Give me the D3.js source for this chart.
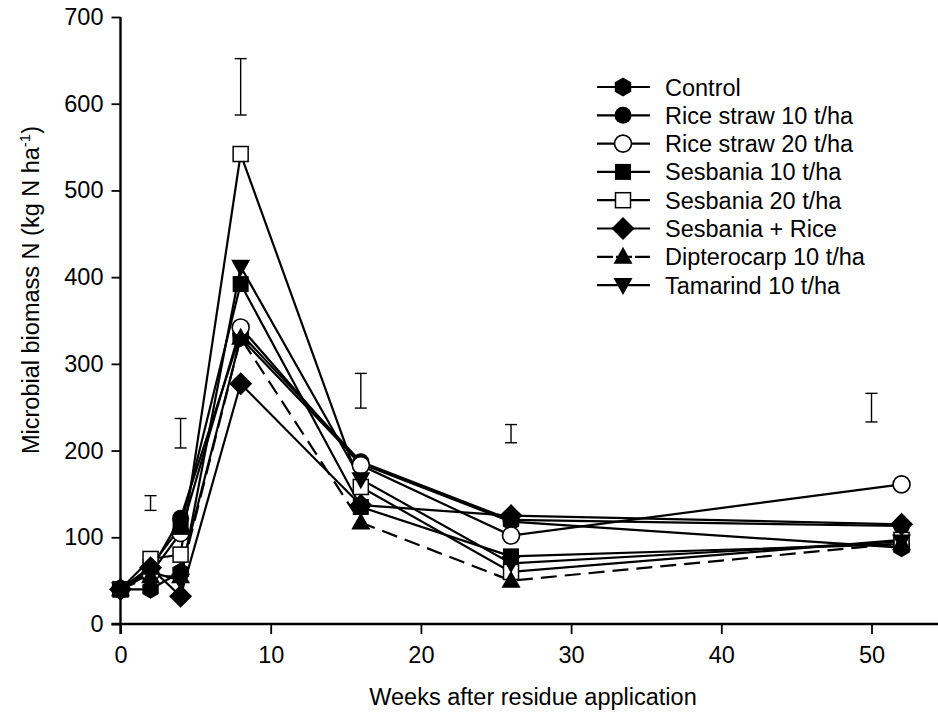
<!DOCTYPE html>
<html><head><meta charset="utf-8">
<script src="https://cdn.jsdelivr.net/npm/d3@7"></script>
<style>body{margin:0;background:#fff}svg{display:block;font-family:"Liberation Sans",Arial,sans-serif}</style>
</head><body><svg id="c" width="938" height="712"></svg>
<script>
const weeks = [0, 2, 4, 8, 16, 26, 52];
const seriesNames = ["Control","Rice straw 10 t/ha","Rice straw 20 t/ha","Sesbania 10 t/ha","Sesbania 20 t/ha","Sesbania + Rice","Dipterocarp 10 t/ha","Tamarind 10 t/ha"];
const control   = [40, 40, 60, 330, 185, 118, 88];
const riceStraw10 = [40, 62, 122, 335, 187, 120, 113];
const riceStraw20 = [40, 58, 105, 342, 183, 102, 161];
const sesbania10 = [40, 66, 112, 392, 135, 78, 92];
const sesbania20 = [40, 75, 80, 542, 158, 60, 97];
const sesbaniaRice = [40, 65, 32, 277, 137, 125, 115];
const dipterocarp = [40, 55, 55, 330, 117, 50, 93];
const tamarind = [40, 60, 50, 412, 167, 70, 95];
const seriesValues = [control, riceStraw10, riceStraw20, sesbania10, sesbania20, sesbaniaRice, dipterocarp, tamarind];
const markerTypes = ["hex","circle","openCircle","square","openSquare","diamond","triangle","triangleDown"];
const dashed = [false,false,false,false,false,false,true,false];
// LSD bars
const errX = [2, 4, 8, 16, 26, 50];
const errLo = [131, 203, 587, 249, 209, 233];
const errHi = [148, 237, 652, 289, 230, 266];
const xTicks = [0,10,20,30,40,50];
const yTicks = [0,100,200,300,400,500,600,700];

const svg = d3.select("#c");
const x = d3.scaleLinear().domain([0,55]).range([120.5, 946.6]);
const y = d3.scaleLinear().domain([0,700]).range([624, 17]);
const FS = 23.5;

// axes
const xAxis = d3.axisBottom(x).tickValues(xTicks).tickSize(10).tickPadding(12).tickFormat(d3.format("d"));
const gx = svg.append("g").attr("transform",`translate(0,${y(0)})`).call(xAxis);
gx.select(".domain").attr("d",`M${x(0)-9},0H946`).attr("stroke","#000").attr("stroke-width",2.4);
gx.selectAll(".tick line").attr("stroke-width",1.8);
gx.selectAll("text").attr("font-size",FS).attr("fill","#000");

const yAxis = d3.axisLeft(y).tickValues(yTicks).tickSize(9).tickPadding(8);
const gy = svg.append("g").attr("transform",`translate(${x(0)},0)`).call(yAxis);
gy.select(".domain").attr("d",`M0,${y(700)}V${y(0)+10}`).attr("stroke","#000").attr("stroke-width",2.4);
gy.selectAll(".tick line").attr("stroke-width",1.8);
gy.selectAll("text").attr("font-size",FS).attr("fill","#000");

svg.append("text").attr("x", 533).attr("y", 705).attr("text-anchor","middle")
  .attr("font-size",FS).text("Weeks after residue application");
const yt = svg.append("text").attr("transform",`translate(39,290) rotate(-90)`).attr("text-anchor","middle").attr("font-size",FS);
yt.append("tspan").text("Microbial biomass N (kg N ha");
yt.append("tspan").attr("font-size",15).attr("dy",-9).text("-1");
yt.append("tspan").attr("dy",9).text(")");

// error bars
errX.forEach((wx,i)=>{
  const g = svg.append("g").attr("stroke","#000").attr("stroke-width",1.4);
  g.append("line").attr("x1",x(wx)).attr("x2",x(wx)).attr("y1",y(errLo[i])).attr("y2",y(errHi[i]));
  g.append("line").attr("x1",x(wx)-6).attr("x2",x(wx)+6).attr("y1",y(errLo[i])).attr("y2",y(errLo[i]));
  g.append("line").attr("x1",x(wx)-6).attr("x2",x(wx)+6).attr("y1",y(errHi[i])).attr("y2",y(errHi[i]));
});

function drawMarker(g, type, cx, cy){
  const r = 8.5;
  switch(type){
    case "hex": {
      const pts = d3.range(6).map(k=>{const a=Math.PI/2 + k*Math.PI/3; return [cx+9.5*Math.cos(a), cy+9.5*Math.sin(a)];});
      g.append("polygon").attr("points", pts.map(p=>p.join(",")).join(" ")).attr("fill","#000"); break; }
    case "circle": g.append("circle").attr("cx",cx).attr("cy",cy).attr("r",r).attr("fill","#000"); break;
    case "openCircle": g.append("circle").attr("cx",cx).attr("cy",cy).attr("r",r).attr("fill","#fff").attr("stroke","#000").attr("stroke-width",1.6); break;
    case "square": g.append("rect").attr("x",cx-8).attr("y",cy-8).attr("width",16).attr("height",16).attr("fill","#000"); break;
    case "openSquare": g.append("rect").attr("x",cx-7.5).attr("y",cy-7.5).attr("width",15).attr("height",15).attr("fill","#fff").attr("stroke","#000").attr("stroke-width",1.5); break;
    case "diamond": g.append("polygon").attr("points",`${cx},${cy-11.5} ${cx+11.5},${cy} ${cx},${cy+11.5} ${cx-11.5},${cy}`).attr("fill","#000"); break;
    case "triangle": g.append("polygon").attr("points",`${cx},${cy-10} ${cx+9.5},${cy+7} ${cx-9.5},${cy+7}`).attr("fill","#000"); break;
    case "triangleDown": g.append("polygon").attr("points",`${cx},${cy+10} ${cx+9.5},${cy-7} ${cx-9.5},${cy-7}`).attr("fill","#000"); break;
  }
}

const line = d3.line().x((d,i)=>x(weeks[i])).y(d=>y(d));
seriesValues.forEach((vals,s)=>{
  svg.append("path").attr("d",line(vals)).attr("fill","none").attr("stroke","#000")
    .attr("stroke-width",2.2).attr("stroke-dasharray", dashed[s] ? "16,8" : null);
});
seriesValues.forEach((vals,s)=>{
  const g = svg.append("g");
  vals.forEach((v,i)=>drawMarker(g, markerTypes[s], x(weeks[i]), y(v)));
});

// legend
const lg = svg.append("g");
seriesNames.forEach((name,i)=>{
  const ly = 87 + i*28.3;
  lg.append("line").attr("x1",597).attr("x2",650).attr("y1",ly).attr("y2",ly).attr("stroke","#000").attr("stroke-width",2.2)
    .attr("stroke-dasharray", dashed[i] ? "16,3" : null);
  drawMarker(lg, markerTypes[i], 623, ly);
  lg.append("text").attr("x",665).attr("y",ly+8.5).attr("font-size",FS).text(name);
});
</script></body></html>
